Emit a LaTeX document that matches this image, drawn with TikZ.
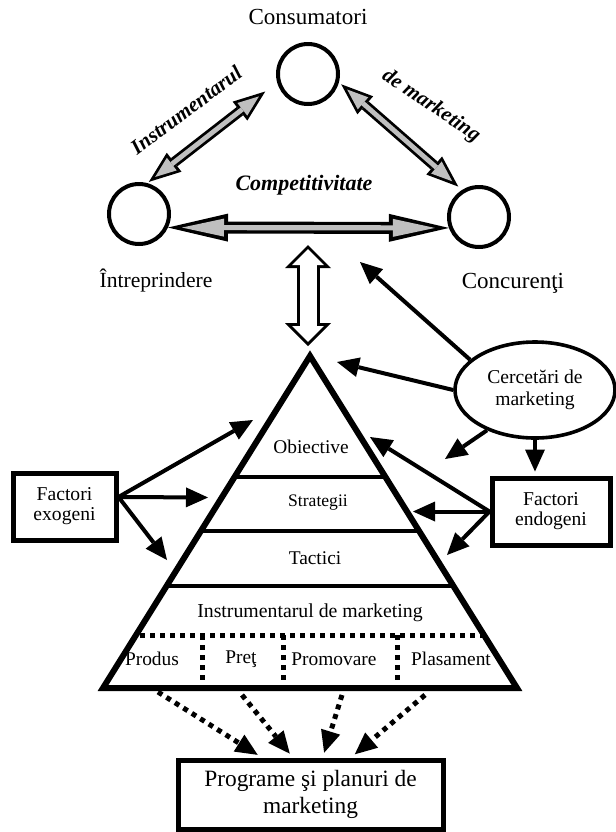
\documentclass[tikz,border=0pt]{standalone}
\usepackage{fontspec}
\setmainfont{Liberation Serif}
\usetikzlibrary{arrows.meta,calc,shapes.geometric}
\newcommand{\fsz}[2]{\fontsize{#1}{#2}\selectfont}
\tikzset{%
  ring/.style      = {circle, draw, line width=2pt, inner sep=0pt, minimum size=30pt},%
  lbl/.style       = {inner sep=0pt, font=\fsz{11.5pt}{13pt}},%
  slant/.style     = {inner sep=0pt, font=\fsz{10.5pt}{12pt}\bfseries\itshape},%
  level/.style     = {inner sep=0pt, font=\fsz{9.7pt}{11pt}},%
  factor/.style    = {rectangle, draw, line width=2.5pt, align=center, inner sep=0pt,%
                      minimum height=33.5pt, font=\fsz{9.8pt}{10pt}},%
  study/.style     = {ellipse, draw, line width=1.8pt, align=center, inner sep=0pt,%
                      minimum width=80pt, minimum height=48pt, font=\fsz{9.8pt}{11pt}},%
  plan/.style      = {rectangle, draw, line width=2.5pt, align=center, inner sep=0pt,%
                      minimum width=132.5pt, minimum height=34.5pt, font=\fsz{11.7pt}{13.5pt}},%
  fat head/.style  = {-{Triangle[length=11pt,width=10pt,line width=0pt]}},%
  push/.style      = {line width=2pt, fat head},%
  dotline/.style   = {line width=2.5pt, dash pattern=on 2.5pt off 2.5pt},%
  dotpush/.style   = {dotline, fat head},%
  layer/.style     = {line width=2pt},%
  wide link/.style = {line width=6pt,%
      {Triangle[length=30pt,width=14pt,line width=0pt]}-{Triangle[length=30pt,width=14pt,line width=0pt]},%
      postaction={draw=gray!50, line width=2.6pt, shorten <=7pt, shorten >=7pt,%
      {Triangle[length=21pt,width=9pt,line width=0pt]}-{Triangle[length=21pt,width=9pt,line width=0pt]}}},%
  grey link/.style = {line width=5.2pt,%
      {Triangle[length=16pt,width=12pt,line width=0pt]}-{Triangle[length=16pt,width=12pt,line width=0pt]},%
      postaction={draw=gray!50, line width=2.4pt, shorten <=4pt, shorten >=4pt,%
      {Triangle[length=10.5pt,width=8pt,line width=0pt]}-{Triangle[length=10.5pt,width=8pt,line width=0pt]}}},%
  hollow link/.style = {line width=11.5pt,%
      {Triangle[length=11.5pt,width=23pt,line width=0pt]}-{Triangle[length=11.5pt,width=23pt,line width=0pt]},%
      postaction={draw=white, line width=8.5pt, shorten <=2.1pt, shorten >=2.1pt,%
      {Triangle[length=7.9pt,width=15.8pt,line width=0pt]}-{Triangle[length=7.9pt,width=15.8pt,line width=0pt]}}}%
}

\begin{document}
\begin{tikzpicture}[x=0.5pt, y=-0.5pt]
  \useasboundingbox (0,0) rectangle (616,832);
  % triunghiul competitivitatii
  \node[lbl] (cons) at (308,17) {Consumatori};
  \node[ring] (cc) at (308,74) {};
  \node[ring] (ci) at (139,214) {};
  \node[ring] (cr) at (479,217) {};
  \node[lbl, font=\fsz{10.8pt}{12pt}] (intr) at (156,281) {Întreprindere};
  \node[lbl] (conc) at (513,283) {Concurenţi};
  \node[slant, font=\fsz{11pt}{12pt}\bfseries\itshape] (comp) at (304,185) {Competitivitate};
  \node[slant, rotate=37] (instr) at (186,110) {Instrumentarul};
  \node[slant, rotate=-34] (demk) at (431,106) {de marketing};
  \draw[grey link] ($(cc.195)!7.5pt!(ci.75)$) -- ($(ci.75)!1pt!(cc.195)$);
  \draw[grey link] ($(cc.-15)!1.5pt!(cr.122)$) -- ($(cr.122)!2.5pt!(cc.-15)$);
  \draw[wide link] (ci.-25) -- (cr.200);
  \coordinate (hub) at (308,245);
  \coordinate (peak) at (308,346);
  \draw[hollow link] (hub) -- (peak);

  % piramida
  \coordinate (apex) at (310,356);
  \coordinate (bl) at (103,688);
  \coordinate (br) at (517,688);
  \begin{scope}
    \clip (apex) -- (bl) -- (br) -- cycle;
    \foreach \ly in {477,531,586}
      \draw[layer] (0,\ly) -- (616,\ly);
    \draw[dotline] (0,635) -- (616,635);
  \end{scope}
  \foreach \sx in {202,283,397}
    \draw[dotline] (\sx,635) -- (\sx,688);
  \draw[line width=3pt, line join=miter] (apex) -- (bl) -- (br) -- cycle;
  \node[level] (obj) at (311,447) {Obiective};
  \node[level, font=\fsz{8.8pt}{10pt}] (strat) at (318,503) {Strategii};
  \node[level] (tact) at (315,558) {Tactici};
  \node[level, font=\fsz{9.9pt}{11pt}] (instrm) at (310,613) {Instrumentarul de marketing};
  \node[level] (prod) at (152,659) {Produs};
  \node[level] (pret) at (241,659) {Preţ};
  \node[level] (prom) at (334,659) {Promovare};
  \node[level] (plas) at (451,659) {Plasament};

  % factori si cercetari
  \node[study] (cm) at (535,390) {Cercetări de\\marketing};
  \node[factor, minimum width=51.5pt] (fex) at (64.5,506.5) {Factori\\exogeni};
  \node[factor, minimum width=59pt] (fen) at (551,511.5) {Factori\\endogeni};
  \node[plan] (prog) at (310.5,794.5) {Programe şi planuri de\\marketing};

  \coordinate (t1) at (360,262);
  \coordinate (t2) at (337,362);
  \coordinate (t3) at (445,459);
  \draw[push] (cm.155) -- (t1);
  \draw[push] (cm.west) -- (t2);
  \draw[push] (cm.-140) -- (t3);
  \draw[push, shorten >=2pt] (cm.south) -- (cm.south |- fen.north);

  \coordinate (x1) at (253,420);
  \coordinate (x2) at (208,497.5);
  \coordinate (x3) at (167,560);
  \foreach \t in {x1,x2,x3}
    \draw[push] (fex.10) -- (\t);

  \coordinate (e1) at (370,437);
  \coordinate (e2) at (413,511.5);
  \coordinate (e3) at (447,555);
  \foreach \t in {e1,e2,e3}
    \draw[push] (fen.west) -- (\t);

  \coordinate (s1) at (158,692);
  \coordinate (s2) at (242,695);
  \coordinate (s3) at (342,695);
  \coordinate (s4) at (425,695);
  \foreach \s/\f in {s1/0.32, s2/0.435, s3/0.545, s4/0.65}
    \draw[dotpush, shorten >=2.5pt] (\s) -- ($(prog.north west)!\f!(prog.north east)$);
\end{tikzpicture}
\end{document}
